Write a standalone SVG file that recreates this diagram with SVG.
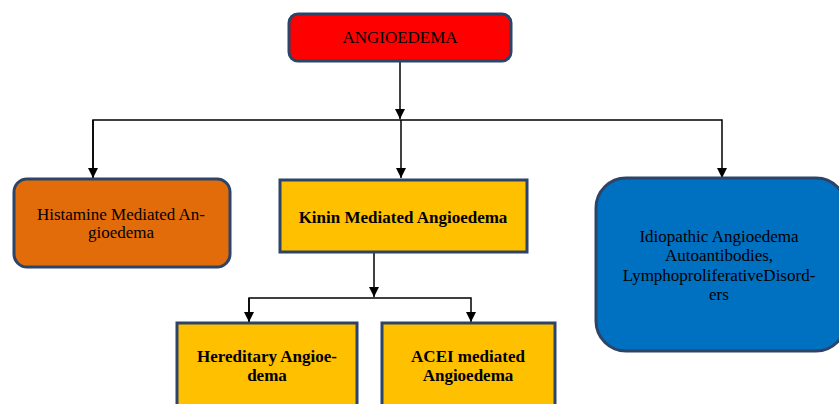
<svg xmlns="http://www.w3.org/2000/svg" width="839" height="404" viewBox="0 0 839 404">
<defs>
<marker id="arr" viewBox="0 0 10 10" refX="10" refY="5" markerWidth="10" markerHeight="10" markerUnits="userSpaceOnUse" orient="auto">
<path d="M0,0 L10,5 L0,10 Z" fill="#000"/>
</marker>
</defs>
<style>
.box{stroke:#2C4468;stroke-width:3}
.t{font-family:"Liberation Serif","Times New Roman",serif;font-size:17px;fill:#000;text-anchor:middle}
.b{font-weight:bold}
.c{fill:none;stroke:#000;stroke-width:1.5}
</style>
<rect width="839" height="404" fill="#fff"/>
<g id="connectors">
<path class="c" d="M400,62 L400,119" marker-end="url(#arr)"/>
<path class="c" d="M93,178 L93,120 L722,120 L722,178" marker-end="url(#arr)"/>
<path class="c" d="M93,120 L93,178" marker-end="url(#arr)"/>
<path class="c" d="M401,120 L401,178" marker-end="url(#arr)"/>
<path class="c" d="M374,253 L374,297" marker-end="url(#arr)"/>
<path class="c" d="M249,322 L249,298 L471,298 L471,322" marker-end="url(#arr)"/>
<path class="c" d="M249,298 L249,322" marker-end="url(#arr)"/>
</g>
<g id="angioedema">
<rect class="box" x="289" y="14" width="222" height="47" rx="9" fill="#FF0000"/>
<text class="t" x="400" y="43">ANGIOEDEMA</text>
</g>
<g id="histamine">
<rect class="box" x="14" y="179" width="216" height="88" rx="13" fill="#E36C0A"/>
<text class="t" x="121" y="220">Histamine Mediated An-</text>
<text class="t" x="121" y="238">gioedema</text>
</g>
<g id="kinin">
<rect class="box" x="280" y="180" width="247" height="72" fill="#FFC000"/>
<text class="t b" x="403" y="223">Kinin Mediated Angioedema</text>
</g>
<g id="idiopathic">
<rect class="box" x="596" y="178" width="250" height="173" rx="30" fill="#0070C0"/>
<text class="t" x="719" y="242">Idiopathic Angioedema</text>
<text class="t" x="719" y="261">Autoantibodies,</text>
<text class="t" x="719" y="281">LymphoproliferativeDisord-</text>
<text class="t" x="719" y="300">ers</text>
</g>
<g id="hereditary">
<rect class="box" x="177" y="323" width="180" height="90" fill="#FFC000"/>
<text class="t b" x="267" y="362">Hereditary Angioe-</text>
<text class="t b" x="267" y="381">dema</text>
</g>
<g id="acei">
<rect class="box" x="382" y="323" width="173" height="90" fill="#FFC000"/>
<text class="t b" x="468" y="362">ACEI mediated</text>
<text class="t b" x="468" y="381">Angioedema</text>
</g>
</svg>
